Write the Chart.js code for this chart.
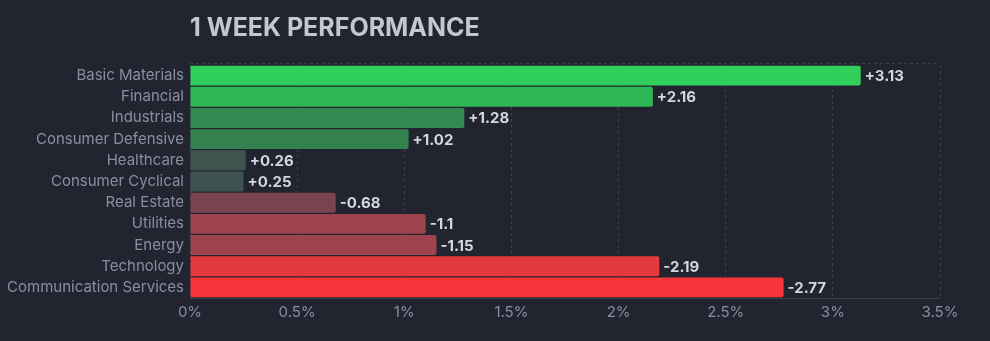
<!DOCTYPE html>
<html>
<head>
<meta charset="utf-8">
<script src="https://cdn.jsdelivr.net/npm/chart.js@4"></script>
<style>
  html, body { margin: 0; padding: 0; background: #22252f; }
  #wrap { width: 990px; height: 341px; position: relative; }
</style>
</head>
<body>
<div id="wrap"><canvas id="perf"></canvas></div>
<script>
const sectors = ['Basic Materials', 'Financial', 'Industrials', 'Consumer Defensive', 'Healthcare',
  'Consumer Cyclical', 'Real Estate', 'Utilities', 'Energy', 'Technology', 'Communication Services'];
const changes = [3.13, 2.16, 1.28, 1.02, 0.26, 0.25, -0.68, -1.1, -1.15, -2.19, -2.77];
const barColors = ['#30ce5b', '#2fb755', '#338a51', '#33814f', '#3d544f', '#3d524e',
  '#7a4551', '#9c434d', '#9e444e', '#e43a3e', '#f6353a'];
const xTicks = [0, 0.5, 1, 1.5, 2, 2.5, 3, 3.5];

const font = 'Inter, "Noto Sans", sans-serif';

// bars are drawn by size, label keeps the sign
const valueLabels = {
  id: 'valueLabels',
  afterDatasetsDraw(chart) {
    const ctx = chart.ctx;
    const meta = chart.getDatasetMeta(0);
    ctx.save();
    ctx.font = 'bold 15px ' + font;
    ctx.fillStyle = '#d4d6de';
    ctx.textAlign = 'left';
    ctx.textBaseline = 'middle';
    meta.data.forEach((bar, i) => {
      const v = changes[i];
      const txt = (v > 0 ? '+' : '') + v;
      ctx.fillText(txt, bar.x + 4, bar.y + 1);
    });
    ctx.restore();
  }
};

const frame = {
  id: 'frame',
  beforeDatasetsDraw(chart) {
    const { ctx, chartArea } = chart;
    ctx.save();
    ctx.strokeStyle = '#3b3f4c';
    ctx.lineWidth = 1;
    ctx.setLineDash([3, 3]);
    ctx.beginPath();
    ctx.moveTo(chartArea.left, chartArea.top - 1.5);
    ctx.lineTo(chartArea.right, chartArea.top - 1.5);
    ctx.stroke();
    ctx.restore();
  },
  afterDraw(chart) {
    const { ctx, chartArea } = chart;
    ctx.save();
    ctx.font = 'bold 25px ' + font;
    ctx.fillStyle = '#c4c7d3';
    ctx.textAlign = 'left';
    ctx.textBaseline = 'alphabetic';
    ctx.fillText('1 WEEK PERFORMANCE', chartArea.left, 36);
    ctx.restore();
  }
};

new Chart(document.getElementById('perf'), {
  type: 'bar',
  data: {
    labels: sectors,
    datasets: [{
      data: changes.map(v => Math.abs(v)),
      backgroundColor: barColors,
      borderRadius: 2,
      borderSkipped: 'start',
      barPercentage: 0.94,
      categoryPercentage: 1
    }]
  },
  options: {
    indexAxis: 'y',
    responsive: true,
    maintainAspectRatio: false,
    animation: false,
    layout: { padding: { top: 65, right: 50, left: 0, bottom: 0 } },
    plugins: { legend: { display: false }, tooltip: { enabled: false } },
    scales: {
      x: {
        min: 0,
        max: 3.5,
        afterFit(scale) { scale.height = 43; },
        afterBuildTicks(scale) { scale.ticks = xTicks.map(v => ({ value: v })); },
        ticks: {
          padding: 5,
          color: '#8a8ea3',
          font: { family: font, size: 15 },
          callback: v => v + '%'
        },
        grid: { color: '#3b3f4c', drawTicks: false },
        border: { display: true, color: '#3b3f4c', dash: [3, 3] }
      },
      y: {
        afterFit(scale) { scale.width = 190; },
        ticks: {
          padding: 6,
          color: '#8a8ea3',
          font: { family: font, size: 15 }
        },
        grid: { display: false, drawTicks: false },
        border: { display: false }
      }
    }
  },
  plugins: [valueLabels, frame]
});
</script>
</body>
</html>
